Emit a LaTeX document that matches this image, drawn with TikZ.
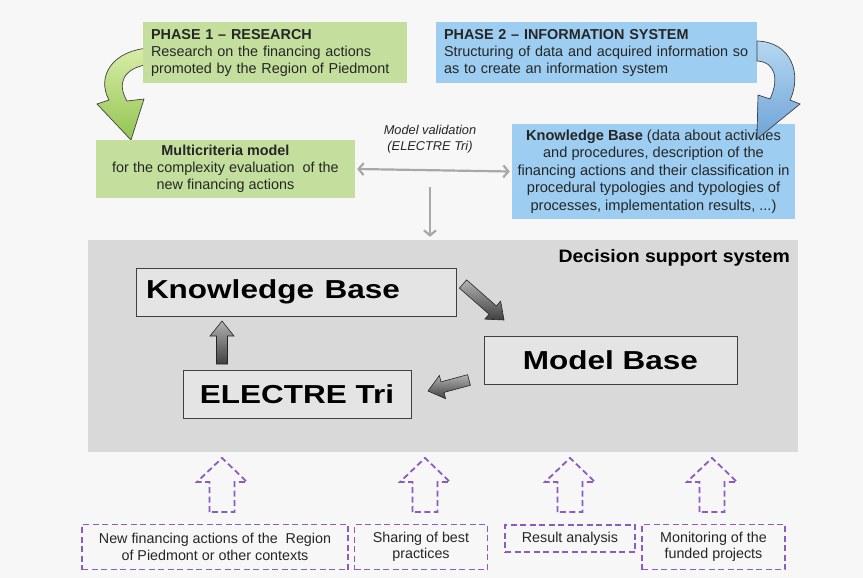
\documentclass[tikz,border=0pt]{standalone}
\usepackage{fontspec}
\setmainfont{Liberation Sans}
\usetikzlibrary{calc,arrows.meta}
\definecolor{bgc}{HTML}{F7F7F7}
\definecolor{pgreen}{HTML}{C4DF9D}
\definecolor{pblue}{HTML}{9DCDF0}
\definecolor{dssgray}{HTML}{D9D9D9}
\definecolor{purp}{HTML}{8A5CC0}
\definecolor{lgray}{HTML}{A8A8A8}
\definecolor{agreenA}{HTML}{D9EDA8}
\definecolor{agreenB}{HTML}{93C451}
\definecolor{ablueA}{HTML}{B5D8F2}
\definecolor{ablueB}{HTML}{6FA3D6}
\newcommand\blkarrow[6]{% style, from, to, shaft half, head half, head length
  \path[#1] ($(#2)!#4!90:(#3)$) -- ($(#3)!#6!(#2)!#4!90:(#3)$) -- ($(#3)!#6!(#2)!#5!90:(#3)$)
    -- (#3) -- ($(#3)!#6!(#2)!#5!-90:(#3)$) -- ($(#3)!#6!(#2)!#4!-90:(#3)$)
    -- ($(#2)!#4!-90:(#3)$) -- cycle;}
\begin{document}
\begin{tikzpicture}[x=1pt,y=-1pt,
  every node/.style={inner sep=0pt, text=black!85},
  body/.style={font=\fontsize{14.4}{17}\selectfont},
  gbox/.style={body, fill=pgreen},
  bbox/.style={body, fill=pblue},
  bigbox/.style={draw=black!75, line width=0.8pt, fill=dssgray!70, font=\fontsize{25}{30}\selectfont\bfseries, text=black},
  dbox/.style={draw=purp, line width=1.8pt, dash pattern=on 6pt off 3.5pt, font=\fontsize{14.3}{16.5}\selectfont, align=center},
  grayarrow/.style={draw=black!85, line width=0.6pt, top color=black!30, bottom color=black!75},
  hollowarrow/.style={draw=purp, line width=1.8pt, dash pattern=on 6pt off 3.5pt, line join=miter},
  thinarrow/.style={draw=lgray, line width=2.2pt, {Straight Barb[length=5pt,width=12pt,line width=2.2pt]}-{Straight Barb[length=5pt,width=12pt,line width=2.2pt]}}
]
\useasboundingbox (0,0) rectangle (863,578);
\fill[bgc] (0,0) rectangle (863,578);

% green curved arrow (under phase 1 box)
\shade[top color=agreenA, bottom color=agreenB, draw=black!75, line width=0.7pt, line join=miter]
  (150,48) .. controls (113,50) and (96,76) .. (109,100) -- (97,104) -- (131,140) -- (144,99) -- (127,101)
  .. controls (117,84) and (122,68) .. (150,64) -- cycle;

\node[gbox, minimum width=264pt, minimum height=61pt, text width=248pt, align=left] (ph1) at (275,52.5)
  {\textbf{PHASE 1 – RESEARCH}\\Research on the financing actions\\promoted by the Region of Piedmont};
\node[bbox, minimum width=321pt, minimum height=61pt, text width=305pt, align=left] (ph2) at (596.5,52.5)
  {\textbf{PHASE 2 – INFORMATION SYSTEM}\\Structuring of data and acquired information so\\as to create an information system};

\node[gbox, minimum width=259pt, minimum height=58pt, align=center] (mcm) at (225.5,169)
  {\textbf{Multicriteria model}\\for the complexity evaluation~ of the\\new financing actions};
\node[bbox, minimum width=283pt, minimum height=95pt, align=center, font=\fontsize{14.6}{17.5}\selectfont] (kbi) at (653.5,171.5)
  {\textbf{Knowledge Base} (data about activities\\and procedures, description of the\\financing actions and their classification in\\procedural typologies and typologies of\\processes, implementation results, ...)};

% blue curved arrow
\shade[top color=ablueA, bottom color=ablueB, draw=black!75, line width=0.7pt, line join=miter]
  (757,41) .. controls (792,42) and (802,75) .. (790,100) -- (800,104) -- (757,139) -- (758,95) -- (770,99)
  .. controls (779,80) and (776,62) .. (757,61) -- cycle;

\node[font=\fontsize{12.8}{16}\selectfont\itshape, align=center] (mv) at (430,139) {Model validation\\(ELECTRE Tri)};

% decision support system
\node[fill=dssgray, minimum width=710pt, minimum height=212pt] (dss) at (443,346) {};
\node[anchor=east, font=\fontsize{18}{20}\selectfont\bfseries, text=black] (dsst) at (790,258) {\scalebox{1.08}[1]{Decision support system}};

\draw[thinarrow] (mcm.east) ++(2,0) coordinate (va) -- ($(kbi.west)+(-2,0)$) coordinate (vb);
\coordinate (vt) at (430,187);
\draw[draw=lgray, line width=2.2pt, -{Straight Barb[length=5pt,width=12pt,line width=2.2pt]}] (vt) -- ($(dss.north)+(-13,-3)$);

\node[bigbox, minimum width=320pt, minimum height=48pt, text width=300pt, align=left] (kb) at (296,292) {\scalebox{1.26}[1.04]{Knowledge Base}};
\node[bigbox, minimum width=253pt, minimum height=48pt] (mb) at (610.5,360) {\scalebox{1.26}[1.04]{Model Base}};
\node[bigbox, minimum width=228pt, minimum height=48pt] (et) at (297,394) {\scalebox{1.26}[1.04]{ELECTRE Tri}};

\coordinate (a1) at (463,284); \coordinate (a2) at (504,320);
\blkarrow{grayarrow}{a1}{a2}{5.5pt}{12pt}{15pt}
\coordinate (b1) at (222,364); \coordinate (b2) at (222,321);
\blkarrow{grayarrow}{b1}{b2}{5.5pt}{12pt}{15pt}
\coordinate (c1) at (469,380); \coordinate (c2) at (428,391);
\blkarrow{grayarrow}{c1}{c2}{5.5pt}{12pt}{15pt}

% bottom boxes
\node[dbox, minimum width=266pt, minimum height=45pt] (n1) at (215,547) {New financing actions of the~ Region\\of Piedmont or other contexts};
\node[dbox, minimum width=133pt, minimum height=45pt] (n2) at (421,547) {Sharing of best\\practices};
\node[dbox, minimum width=130pt, minimum height=27pt] (n3) at (570,538.5) {Result analysis};
\node[dbox, minimum width=143pt, minimum height=45pt] (n4) at (713.5,547) {Monitoring of the\\funded projects};

\foreach \i/\xx in {1/222,2/425,3/570,4/712}{
  \coordinate (u\i) at (\xx,512);
  \coordinate (t\i) at (\xx,458);
  \blkarrow{hollowarrow}{u\i}{t\i}{12.5pt}{25pt}{24pt}
}
\end{tikzpicture}
\end{document}
